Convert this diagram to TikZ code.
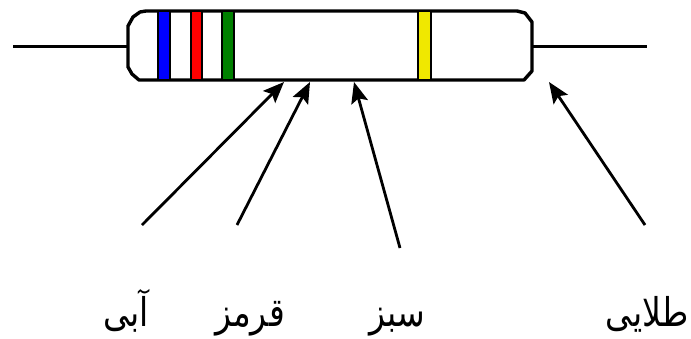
\documentclass[tikz,border=0pt]{standalone}
\usepackage{fontspec}
\usetikzlibrary{arrows.meta}
\TeXXeTstate=1
\newfontfamily\arabicfont[Script=Arabic]{DejaVu Sans}
\newcommand{\farsiword}[1]{\scalebox{1}[1.2]{\beginR #1\endR}}
\begin{document}
\begin{tikzpicture}[x=1pt,y=-1pt,
  wire/.style={line width=3.2pt},
  body/.style={line width=3.4pt,fill=white,line join=round},
  band/.style={draw=black,line width=1.8pt},
  pointer/.style={line width=2.8pt,-{Stealth[length=21pt,width=17pt,inset=4pt]}},
  colname/.style={font=\arabicfont\fontsize{33}{38}\selectfont,anchor=base,inner sep=0pt}]
\useasboundingbox (0,0) rectangle (691,338);
% leads
\coordinate (leadL) at (13,46.5);
\coordinate (leadR) at (647,46.5);
\draw[wire] (leadL) -- (128,46.5);
\draw[wire] (532,46.5) -- (leadR);
% resistor body with bevelled ends
\draw[body] (146,11) -- (517,11) -- (525,13) -- (532,22) -- (532,71) -- (524,80)
  -- (139,80) -- (132,74) -- (128,67) -- (128,26) -- (133,17) -- (140,12) -- cycle;
% colour bands
\draw[band,fill={rgb,255:red,0;green,0;blue,255}] (158,11) rectangle (170,80);
\draw[band,fill={rgb,255:red,255;green,0;blue,0}] (191,11) rectangle (202,80);
\draw[band,fill={rgb,255:red,0;green,128;blue,0}] (222,11) rectangle (234,80);
\draw[band,fill={rgb,255:red,240;green,232;blue,0}] (418,11) rectangle (431,80);
% arrow tips on the body and arrow tails
\coordinate (tipA) at (284,82);
\coordinate (tipB) at (310,82);
\coordinate (tipC) at (354,82);
\coordinate (tipD) at (549,82);
\coordinate (tailA) at (142,225);
\coordinate (tailB) at (237,225);
\coordinate (tailC) at (400,248);
\coordinate (tailD) at (645,225);
\draw[pointer] (tailA) -- (tipA);
\draw[pointer] (tailB) -- (tipB);
\draw[pointer] (tailC) -- (tipC);
\draw[pointer] (tailD) -- (tipD);
% colour names
\node[colname] (abi) at (126,326) {\farsiword{آبی}};
\node[colname] (ghermez) at (250,326) {\farsiword{قرمز}};
\node[colname] (sabz) at (397,326) {\farsiword{سبز}};
\node[colname] (talayi) at (647,326) {\farsiword{طلایی}};
\end{tikzpicture}
\end{document}
